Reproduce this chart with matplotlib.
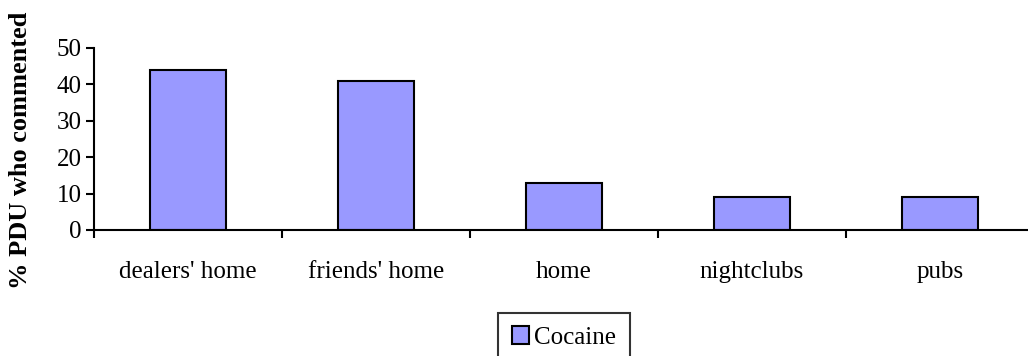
import matplotlib.pyplot as plt

categories = ["dealers' home", "friends' home", "home", "nightclubs", "pubs"]
cocaine = [44, 41, 13, 9, 9]
y_ticks = [0, 10, 20, 30, 40, 50]

plt.rcParams['font.family'] = ['Liberation Serif', 'DejaVu Serif']

fig = plt.figure(figsize=(10.28, 3.56), dpi=100)
ax = fig.add_axes([94 / 1028, 126 / 356, 940 / 1028, 182 / 356])

x = list(range(len(categories)))
ax.bar(x, cocaine, width=0.4, color='#9999FF', edgecolor='black',
       linewidth=1.5, label='Cocaine')

ax.set_xlim(-0.5, len(categories) - 0.5)
ax.set_ylim(0, 50)
ax.set_yticks(y_ticks)
ax.tick_params(axis='y', direction='out', length=6, width=1.5, labelsize=18, pad=3)

# category ticks sit on the boundaries between categories
ax.set_xticks([i - 0.5 for i in range(len(categories) + 1)])
ax.set_xticklabels([])
ax.set_xticks(x, minor=True)
ax.set_xticklabels(categories, minor=True, fontsize=18)
ax.tick_params(axis='x', which='major', direction='out', length=6, width=1.5)
ax.tick_params(axis='x', which='minor', length=0, pad=22)

for side in ['top', 'right']:
    ax.spines[side].set_visible(False)
for side in ['left', 'bottom']:
    ax.spines[side].set_linewidth(1.5)

ax.set_ylabel('% PDU who commented', fontsize=19, fontweight='bold')
ax.yaxis.set_label_coords(-0.066, 0.44)

leg = ax.legend(loc='upper center', bbox_to_anchor=(0.5, -0.385), frameon=True,
                fancybox=False, edgecolor='black', fontsize=18, handlelength=0.7,
                handleheight=0.7, handletextpad=0.2, borderpad=0.55)
leg.get_frame().set_linewidth(1.5)

fig.savefig('out.png', dpi=100)
